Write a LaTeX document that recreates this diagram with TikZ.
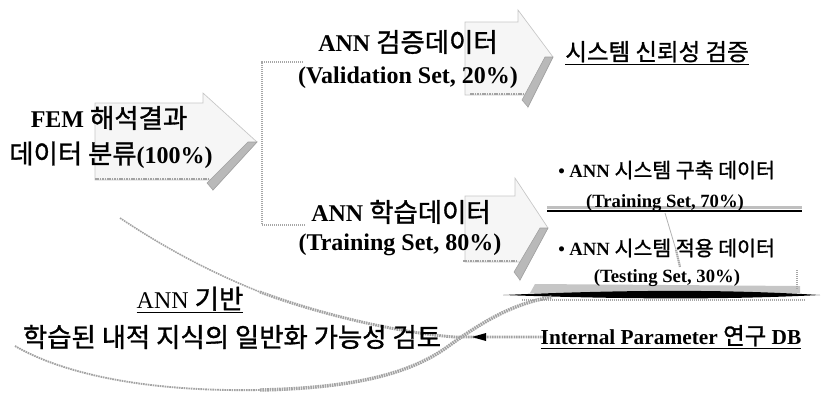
\documentclass[tikz,border=0pt]{standalone}
\usepackage{fontspec}
\setmainfont{Liberation Serif}
\newfontfamily\kr[Scale=1.1, FakeBold=1.2]{Noto Sans CJK KR}
\newcommand\K[1]{{\kr\mdseries #1}}
\tikzset{
  arrowbody/.style={fill=gray!7, draw=gray!45, line width=0.5pt},
  arrowside/.style={fill=gray!55, draw=gray!75, line width=0.4pt},
  hatch/.style={draw=gray!72, line width=2.2pt, dash pattern=on 1.2pt off 0.6pt},
  thinhatch/.style={draw=gray!70, line width=1.6pt, dash pattern=on 1pt off 0.5pt},
  bigtxt/.style={font=\fontsize{18}{21}\selectfont\bfseries, inner sep=0pt},
  smalltxt/.style={font=\fontsize{14}{17}\selectfont\bfseries, inner sep=0pt},
  plaintxt/.style={font=\fontsize{18}{21}\selectfont, inner sep=0pt},
}
\begin{document}
\begin{tikzpicture}[x=0.75pt,y=-0.75pt]
\useasboundingbox (0,0) rectangle (823,394);

% ---- block arrows (background) ----
% FEM arrow
\draw[arrowbody] (95,103) -- (203,103) -- (203,93) -- (257,142) -- (213,190) -- (213,180) -- (95,180) -- cycle;
\fill[arrowside] (257,142) -- (213,190) -- (207,183) -- (248,142) -- cycle;
\draw[hatch] (95,179) -- (208,179);
% Validation arrow
\draw[arrowbody] (465,22) -- (518,22) -- (518,10) -- (553,57) -- (528,107) -- (528,95) -- (465,95) -- cycle;
\fill[arrowside] (553,57) -- (528,107) -- (522,100) -- (545,57) -- cycle;
\draw[hatch] (470,94) -- (524,94);
% Training arrow
\draw[arrowbody] (465,196) -- (515,196) -- (515,178) -- (548,228) -- (520,280) -- (520,262) -- (465,262) -- cycle;
\fill[arrowside] (548,228) -- (520,280) -- (514,272) -- (540,228) -- cycle;
\draw[hatch] (463,261) -- (516,261);

% ---- bracket ----
\coordinate (bt) at (303,62);
\coordinate (bb) at (305,225);
\draw[thinhatch] (bt) -- (262,62) -- (262,225) -- (bb);

% ---- lines under sets ----
\draw[draw=gray!50, line width=2.5pt] (547,207.5) -- (802,207.5);
\draw[line width=1.8pt] (547,211) -- (802,211);
% testing line (tapered)
\fill[gray!45] (535,284) -- (800,286) -- (800,293) -- (530,293) -- cycle;
\draw[thinhatch] (522,300) -- (805,300);
\fill[black] (503,295) .. controls (620,290) and (720,289) .. (820,295) .. controls (720,300) and (620,299) .. (503,295) -- cycle;
\draw[thinhatch] (797,270) -- (797,290);

% small connector
\coordinate (c1) at (665,213);
\coordinate (c2) at (680,267);
\draw[gray!60, line width=0.6pt] (c1) -- (676,250);
\draw[thinhatch] (676,250) -- (c2);

% ---- curved arrow ----
\draw[hatch, line width=1.2pt] (120,218) .. controls (165,248) and (210,272) .. (260,292);
\draw[hatch] (260,292) .. controls (330,318) and (410,334) .. (455,337) -- (543,337);
\draw[hatch, line width=1.4pt] (15,346) .. controls (60,372) and (140,392) .. (260,390);
\draw[hatch, line width=2.6pt] (260,390) .. controls (350,388) and (410,375) .. (450,345) .. controls (485,320) and (515,303) .. (552,297);
\fill[black] (472,337) -- (486,333) -- (486,341) -- cycle;

% ---- texts ----
\node[bigtxt] (fem1) at (109,118) {FEM \K{해석결과}};
\node[bigtxt] (fem2) at (111,155) {\K{데이터 분류}(100\%)};
\node[bigtxt] (val1) at (408,42) {ANN \K{검증데이터}};
\node[bigtxt] (val2) at (408,78) {(Validation Set, 20\%)};
\node[bigtxt] (tr1) at (401,212) {ANN \K{학습데이터}};
\node[bigtxt] (tr2) at (400,245) {(Training Set, 80\%)};
\node[font=\fontsize{16}{20}\selectfont, inner sep=0pt] (rel) at (657,53) {\underline{\K{시스템 신뢰성 검증}}};
\node[smalltxt, anchor=west] (b1) at (558,170) {\textbullet\ ANN \K{시스템 구축 데이터}};
\node[smalltxt] (t70) at (665,203) {(Training Set, 70\%)};
\node[smalltxt, anchor=west] (b2) at (558,248) {\textbullet\ ANN \K{시스템 적용 데이터}};
\node[smalltxt] (t30) at (667,278) {(Testing Set, 30\%)};
\node[font=\fontsize{16}{19}\selectfont\bfseries, inner sep=0pt] (db) at (671,337) {\underline{Internal Parameter \K{연구} DB}};
\node[plaintxt] (base) at (190,300) {\underline{ANN \K{기반}}};
\node[plaintxt] (gen) at (232,337) {\K{학습된 내적 지식의 일반화 가능성 검토}};
\end{tikzpicture}
\end{document}
